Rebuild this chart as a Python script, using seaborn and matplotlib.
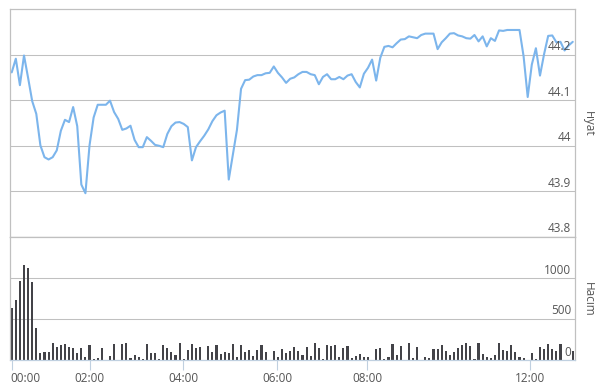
import numpy as np
import pandas as pd
import seaborn as sns
import matplotlib
matplotlib.use("Agg")
import matplotlib.pyplot as plt
import matplotlib.transforms as mtransforms

# ---------------- data ----------------
price = [
    44.161, 44.191, 44.133, 44.198, 44.149, 44.098, 44.070, 44.001, 43.975, 43.970,
    43.975, 43.990, 44.033, 44.057, 44.052, 44.085, 44.043, 43.915, 43.896, 44.001,
    44.062, 44.090, 44.090, 44.090, 44.099, 44.074, 44.059, 44.035, 44.038, 44.044,
    44.013, 43.997, 43.997, 44.019, 44.011, 44.002, 44.000, 43.997, 44.026, 44.043,
    44.051, 44.052, 44.048, 44.041, 43.968, 43.997, 44.010, 44.022, 44.036, 44.054,
    44.067, 44.073, 44.077, 43.926, 43.981, 44.035, 44.125, 44.144, 44.145, 44.152,
    44.155, 44.155, 44.159, 44.160, 44.174, 44.160, 44.150, 44.138, 44.147, 44.150,
    44.157, 44.162, 44.162, 44.157, 44.155, 44.135, 44.151, 44.157, 44.146, 44.146,
    44.151, 44.146, 44.154, 44.157, 44.140, 44.128, 44.158, 44.171, 44.189, 44.143,
    44.193, 44.217, 44.219, 44.216, 44.225, 44.233, 44.234, 44.240, 44.238, 44.236,
    44.243, 44.246, 44.246, 44.246, 44.212, 44.227, 44.236, 44.246, 44.247, 44.242,
    44.240, 44.236, 44.235, 44.243, 44.229, 44.240, 44.218, 44.236, 44.230, 44.253,
    44.252, 44.254, 44.254, 44.254, 44.254, 44.196, 44.107, 44.178, 44.214, 44.154,
    44.201, 44.241, 44.242, 44.227, 44.228, 44.209, 44.220, 44.228,
]
volume = [
    631, 733, 965, 1160, 1123, 952, 391, 85, 102, 102,
    212, 159, 183, 199, 159, 147, 85, 147, 37, 183,
    12, 24, 147, 0, 49, 195, 0, 195, 207, 24,
    61, 37, 12, 195, 90, 90, 16, 183, 147, 102,
    61, 212, 12, 122, 195, 147, 159, 0, 171, 102,
    183, 73, 102, 90, 195, 37, 183, 102, 122, 49,
    122, 183, 102, 0, 110, 37, 134, 90, 110, 159,
    110, 61, 159, 49, 212, 147, 12, 183, 171, 183,
    37, 147, 171, 24, 49, 73, 37, 37, 0, 134,
    147, 12, 37, 195, 61, 171, 0, 212, 24, 159,
    0, 37, 24, 134, 134, 183, 110, 61, 102, 147,
    183, 212, 171, 12, 212, 73, 37, 24, 61, 212,
    122, 110, 183, 102, 37, 24, 0, 85, 12, 159,
    134, 195, 134, 110, 195, 0, 0, 110,
]
x_tick_labels = ["00:00", "02:00", "04:00", "06:00", "08:00", "12:00"]
x_tick_slots = [0, 19, 41.9, 64.9, 86.8, 126.6]
price_ticks = [43.8, 43.9, 44.0, 44.1, 44.2]
price_tick_labels = ["43.8", "43.9", "44", "44.1", "44.2"]
volume_ticks = [0, 500, 1000]
volume_tick_labels = ["0", "500", "1000"]
price_title = "Fiyat"
volume_title = "Hacim"

assert len(price) == len(volume)
df = pd.DataFrame({"slot": np.arange(len(price)), "price": price, "volume": volume})

# ---------------- style ----------------
sns.set_theme(style="white")
plt.rcParams["font.family"] = ["Open Sans", "DejaVu Sans"]

W, H = 595, 385
fig = plt.figure(figsize=(W / 100, H / 100), dpi=100)

def px_axes(x0, y0, x1, y1):
    return fig.add_axes([x0 / W, 1 - y1 / H, (x1 - x0) / W, (y1 - y0) / H])

ax_p = px_axes(10, 9, 575, 237)
ax_v = px_axes(10, 237, 575, 360)

grid_col = "#C0C0C0"
text_col = "#555555"
line_col = "#7cb5ec"
bar_col = "#434348"
axis_blue = "#C0D0E0"
xlim = (-0.42, 137.55)
fs = 8.5

# price line
sns.lineplot(data=df, x="slot", y="price", ax=ax_p, color=line_col, linewidth=1.5)
ax_p.set_xlim(*xlim)
ax_p.set_ylim(43.8, 44.3)

# volume bars
sns.barplot(data=df, x="slot", y="volume", ax=ax_v, color=bar_col, saturation=1,
            native_scale=True, width=0.52, errorbar=None, linewidth=0)
ax_v.set_xlim(*xlim)
ax_v.set_ylim(0, 1500)

for ax, ticks in ((ax_p, price_ticks), (ax_v, volume_ticks)):
    ax.set_yticks(ticks)
    ax.set_yticklabels([])
    ax.tick_params(axis="y", length=0)
    ax.yaxis.grid(True, color=grid_col, linewidth=0.75)
    ax.xaxis.grid(False)
    ax.set_xlabel("")
    ax.set_ylabel("")
    ax.set_axisbelow(True)
    for s in ax.spines.values():
        s.set_visible(True)
        s.set_color(grid_col)
        s.set_linewidth(0.9)

ax_p.set_xticks([])
ax_v.spines["bottom"].set_color(axis_blue)
ax_v.set_xticks(x_tick_slots)
ax_v.set_xticklabels(x_tick_labels)
ax_v.tick_params(axis="x", length=7, width=0.8, color=axis_blue, labelcolor=text_col,
                 labelsize=fs, pad=2, bottom=True, direction="out")
xl = ax_v.get_xticklabels()
xl[0].set_horizontalalignment("left")
xl[0].set_transform(xl[0].get_transform() +
                    mtransforms.ScaledTranslation(-1 / 100, 0, fig.dpi_scale_trans))

# y labels inside the plot at the right, just above grid lines
def right_labels(ax, ticks, labels):
    trans = mtransforms.blended_transform_factory(ax.transAxes, ax.transData)
    off = mtransforms.ScaledTranslation(-4 / 100, 1.5 / 100, fig.dpi_scale_trans)
    for t, l in zip(ticks, labels):
        ax.text(1.0, t, l, transform=trans + off, ha="right", va="bottom",
                fontsize=fs, color=text_col, zorder=5)

right_labels(ax_p, price_ticks, price_tick_labels)
right_labels(ax_v, volume_ticks, volume_tick_labels)

fig.text(588 / W, 1 - 124 / H, price_title, rotation=270, ha="center", va="center",
         fontsize=fs, color=text_col)
fig.text(588 / W, 1 - 299 / H, volume_title, rotation=270, ha="center", va="center",
         fontsize=fs, color=text_col)

fig.savefig("out.png", dpi=100, facecolor="white")
